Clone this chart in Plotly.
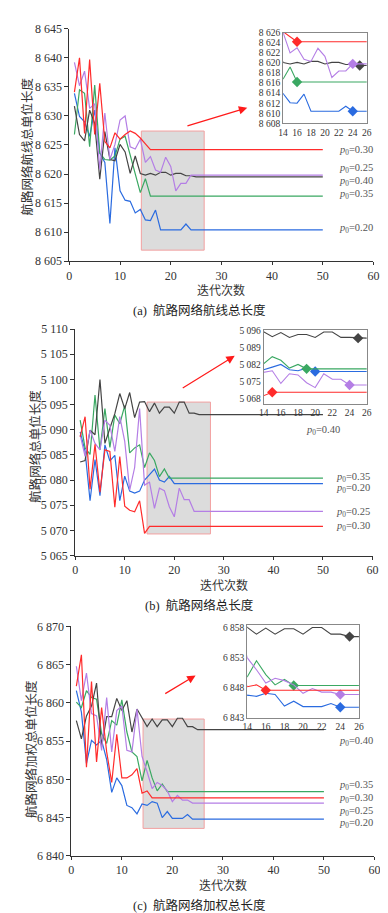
import plotly.graph_objects as go

W, H = 388, 913

# ---------------- data ----------------
ITERS = list(range(1, 27))      # iterations 1..26 read individually
FINAL_ITER = 50                 # lines stay flat until iteration 50
P0 = ["0.20", "0.25", "0.30", "0.35", "0.40"]
COLORS = {"0.20": "#2a6be0", "0.25": "#b47ee5", "0.30": "#ff2b2b",
          "0.35": "#3aa862", "0.40": "#444444"}
DRAW_ORDER = ["0.20", "0.35", "0.40", "0.25", "0.30"]

# (a) total route length
a_020 = [8633.9, 8629.9, 8629.0, 8626.5, 8631.0, 8623.6, 8622.0, 8611.5, 8624.5, 8617.1,
         8615.5, 8615.3, 8613.3, 8613.9, 8612.1, 8612.0, 8613.8, 8610.4, 8610.4, 8610.4,
         8610.4, 8610.4, 8611.4, 8610.4, 8610.4, 8610.4]
a_025 = [8639.2, 8635.2, 8637.7, 8631.3, 8632.1, 8620.8, 8630.5, 8622.5, 8625.1, 8629.3,
         8630.0, 8624.7, 8624.3, 8626.0, 8622.0, 8623.0, 8620.7, 8620.3, 8622.9, 8621.3,
         8617.1, 8618.4, 8618.4, 8619.8, 8619.8, 8619.8]
a_030 = [8634.1, 8640.0, 8627.0, 8639.7, 8626.8, 8635.6, 8625.6, 8624.5, 8627.1, 8626.0,
         8626.8, 8627.4, 8627.0, 8626.2, 8625.2, 8624.2, 8624.2, 8624.2, 8624.2, 8624.2,
         8624.2, 8624.2, 8624.2, 8624.2, 8624.2, 8624.2]
a_035 = [8626.8, 8634.5, 8633.9, 8624.7, 8635.3, 8623.6, 8622.5, 8622.4, 8623.1, 8626.0,
         8626.5, 8623.1, 8619.7, 8616.8, 8619.2, 8616.2, 8616.2, 8616.2, 8616.2, 8616.2,
         8616.2, 8616.2, 8616.2, 8616.2, 8616.2, 8616.2]
a_040 = [8631.7, 8626.8, 8625.7, 8631.0, 8628.7, 8619.1, 8627.3, 8622.5, 8622.3, 8625.1,
         8623.8, 8620.1, 8623.1, 8620.1, 8619.8, 8620.1, 8619.8, 8620.3, 8620.3, 8619.8,
         8620.1, 8620.1, 8619.7, 8619.7, 8619.5, 8619.5]
a_conv = {"0.20": 24, "0.25": 24, "0.30": 16, "0.35": 16, "0.40": 25}

# (b) total network length
b_020 = [5089.6, 5085.7, 5075.9, 5084.1, 5076.9, 5087.0, 5083.8, 5084.9, 5075.9, 5080.8,
         5077.8, 5077.4, 5077.8, 5080.0, 5081.1, 5082.2, 5080.0, 5079.6, 5080.7, 5079.3,
         5079.3, 5079.3, 5079.3, 5079.3, 5079.3, 5079.3]
b_025 = [5089.0, 5084.7, 5089.9, 5087.3, 5086.0, 5091.9, 5090.9, 5085.7, 5092.6, 5087.7,
         5078.0, 5082.5, 5094.2, 5079.0, 5079.6, 5074.4, 5078.4, 5077.9, 5074.7, 5072.7,
         5078.4, 5076.1, 5076.1, 5073.8, 5073.8, 5073.8]
b_030 = [5088.6, 5092.6, 5078.2, 5087.1, 5077.6, 5086.0, 5085.7, 5074.6, 5084.7, 5074.8,
         5074.0, 5073.7, 5075.9, 5069.4, 5070.8, 5070.8, 5070.8, 5070.8, 5070.8, 5070.8,
         5070.8, 5070.8, 5070.8, 5070.8, 5070.8, 5070.8]
b_035 = [5091.9, 5086.4, 5085.1, 5096.9, 5086.0, 5094.2, 5086.5, 5092.9, 5091.2, 5094.8,
         5085.4, 5086.4, 5087.0, 5082.5, 5085.4, 5083.9, 5080.7, 5082.2, 5080.4, 5080.4,
         5080.4, 5080.4, 5080.4, 5080.4, 5080.4, 5080.4]
b_040 = [5083.6, 5083.9, 5089.9, 5089.0, 5100.0, 5087.3, 5090.3, 5093.2, 5097.2, 5094.2,
         5097.4, 5092.4, 5095.5, 5095.6, 5093.6, 5095.3, 5093.3, 5094.5, 5094.5, 5093.3,
         5095.5, 5095.5, 5093.3, 5093.3, 5093.0, 5093.0]
b_conv = {"0.20": 20, "0.25": 24, "0.30": 15, "0.35": 19, "0.40": 25}

# (c) weighted total length
c_020 = [6861.6, 6858.8, 6852.1, 6855.1, 6854.5, 6855.1, 6852.6, 6848.3, 6850.2, 6849.2,
         6846.6, 6846.3, 6845.5, 6846.8, 6846.6, 6847.1, 6846.9, 6845.0, 6845.8, 6844.9,
         6844.9, 6844.9, 6845.4, 6844.8, 6844.8, 6844.8]
c_025 = [6864.8, 6860.3, 6863.9, 6858.6, 6858.3, 6853.8, 6860.7, 6853.6, 6859.0, 6859.6,
         6853.8, 6853.6, 6859.2, 6853.0, 6851.0, 6848.8, 6849.6, 6849.2, 6848.5, 6847.1,
         6847.9, 6847.3, 6847.3, 6846.9, 6846.9, 6846.9]
c_030 = [6862.2, 6866.3, 6851.6, 6862.8, 6852.3, 6859.4, 6853.6, 6849.6, 6855.9, 6850.2,
         6850.2, 6850.6, 6851.4, 6848.2, 6848.5, 6847.6, 6847.6, 6847.6, 6847.6, 6847.6,
         6847.6, 6847.6, 6847.6, 6847.6, 6847.6, 6847.6]
c_035 = [6860.1, 6859.4, 6861.6, 6860.7, 6860.5, 6856.0, 6854.7, 6857.7, 6857.1, 6860.4,
         6856.2, 6853.6, 6853.0, 6849.8, 6852.5, 6850.2, 6848.5, 6849.4, 6848.4, 6848.4,
         6848.4, 6848.4, 6848.4, 6848.4, 6848.4, 6848.4]
c_040 = [6857.7, 6855.3, 6858.3, 6859.6, 6862.6, 6854.3, 6858.2, 6858.2, 6860.6, 6859.0,
         6860.3, 6856.2, 6859.2, 6858.0, 6856.9, 6857.9, 6856.9, 6857.8, 6857.8, 6856.9,
         6858.0, 6858.0, 6856.9, 6856.9, 6856.5, 6856.5]
c_conv = {"0.20": 24, "0.25": 24, "0.30": 16, "0.35": 19, "0.40": 25}

# axis tick values
a_yticks = [8605, 8610, 8615, 8620, 8625, 8630, 8635, 8640, 8645]
a_inset_yticks = [8608, 8610, 8612, 8614, 8616, 8618, 8620, 8622, 8624, 8626]
b_yticks = [5065, 5070, 5075, 5080, 5085, 5090, 5095, 5100, 5105, 5110]
b_inset_yticks = [5068, 5075, 5082, 5089, 5096]
c_yticks = [6840, 6845, 6850, 6855, 6860, 6865, 6870]
c_inset_yticks = [6843, 6848, 6853, 6858]
main_xticks = [0, 10, 20, 30, 40, 50, 60]
inset_xticks = [14, 16, 18, 20, 22, 24, 26]

titles_y = ["航路网络航线总单位长度", "航路网络总单位长度", "航路网络加权总单位长度"]
captions = ["(a)  航路网络航线总长度", "(b)  航路网络总长度", "(c)  航路网络加权总长度"]
x_title = "迭代次数"

# ---------------- layout helpers ----------------
SERIF = "Liberation Serif, Noto Sans CJK SC, serif"
CJK = "Noto Sans CJK SC, Liberation Serif, sans-serif"


def fx(px):
    return px / W


def fy(py):
    return 1 - py / H


def fmt(v):
    return f"{v:,}".replace(",", " ")


panels = [
    dict(series={"0.20": a_020, "0.25": a_025, "0.30": a_030, "0.35": a_035, "0.40": a_040},
         conv=a_conv, yticks=a_yticks, yrange=[8605, 8645],
         iticks=a_inset_yticks, irange=[8608, 8626],
         main_dom=([58, 371], [14, 250]), inset_dom=([278, 364], [18, 110]),
         rect=(14.2, 26.6, 8606.9, 8627.4),
         arrow=((23.0, 8628.2), (35.1, 8631.4)),
         labels={"0.30": 8624.0, "0.25": 8620.9, "0.40": 8618.7, "0.35": 8616.4, "0.20": 8610.6},
         label_x=52.8,
         ytitle_pos=(14, 134), xtitle_pos=(214, 279), caption_pos=(192, 300)),
    dict(series={"0.20": b_020, "0.25": b_025, "0.30": b_030, "0.35": b_035, "0.40": b_040},
         conv=b_conv, yticks=b_yticks, yrange=[5065, 5110],
         iticks=b_inset_yticks, irange=[5066, 5096.3],
         main_dom=([64, 370], [319, 549]), inset_dom=([258, 364], [320, 395]),
         rect=(14.5, 27.3, 5069.3, 5095.5),
         arrow=((21.4, 5098.1), (32.2, 5104.7)),
         labels={"0.40": 5089.9, "0.35": 5080.6, "0.20": 5078.4, "0.25": 5073.6, "0.30": 5070.8},
         label_x={"0.40": 46.2, "default": 52.2},
         ytitle_pos=(22, 438), xtitle_pos=(217, 578), caption_pos=(192, 600)),
    dict(series={"0.20": c_020, "0.25": c_025, "0.30": c_030, "0.35": c_035, "0.40": c_040},
         conv=c_conv, yticks=c_yticks, yrange=[6840, 6870],
         iticks=c_inset_yticks, irange=[6843, 6858.5],
         main_dom=([60, 372], [621, 854]), inset_dom=([241, 356], [619, 714]),
         rect=(14.2, 26.3, 6843.6, 6857.9),
         arrow=((18.3, 6861.1), (24.6, 6863.6)),
         labels={"0.40": 6855.0, "0.35": 6849.2, "0.30": 6847.5, "0.25": 6845.8, "0.20": 6844.3},
         label_x=52.5,
         ytitle_pos=(18, 745), xtitle_pos=(216, 883), caption_pos=(192, 904)),
]

fig = go.Figure()
layout = dict(width=W, height=H, margin=dict(l=0, r=0, t=0, b=0), autosize=False,
              paper_bgcolor="white", plot_bgcolor="white", showlegend=False)
shapes, annots = [], []

for i, p in enumerate(panels):
    mi = 2 * i + 1
    ii = 2 * i + 2
    mx = "x" if mi == 1 else f"x{mi}"
    my = "y" if mi == 1 else f"y{mi}"
    ix, iy = f"x{ii}", f"y{ii}"
    mxk = "xaxis" if mi == 1 else f"xaxis{mi}"
    myk = "yaxis" if mi == 1 else f"yaxis{mi}"

    for key in DRAW_ORDER:
        vals = p["series"][key]
        xs = ITERS + [FINAL_ITER]
        ys = vals + [vals[-1]]
        col = COLORS[key]
        fig.add_trace(go.Scatter(x=xs, y=ys, mode="lines", xaxis=mx, yaxis=my,
                                 line=dict(color=col, width=1.2), hoverinfo="skip"))
        fig.add_trace(go.Scatter(x=xs, y=ys, mode="lines", xaxis=ix, yaxis=iy,
                                 line=dict(color=col, width=1.1), hoverinfo="skip"))
        cv = p["conv"][key]
        fig.add_trace(go.Scatter(x=[cv], y=[vals[cv - 1]], mode="markers", xaxis=ix, yaxis=iy,
                                 marker=dict(symbol="diamond", size=8, color=col),
                                 cliponaxis=False, hoverinfo="skip"))

    (mx0, mx1), (my0, my1) = p["main_dom"]
    (ix0, ix1), (iy0, iy1) = p["inset_dom"]
    layout[mxk] = dict(domain=[fx(mx0), fx(mx1)], anchor=my, range=[0, 60],
                       tickvals=main_xticks, ticktext=[str(t) for t in main_xticks],
                       showline=True, linecolor="#333", linewidth=1, ticks="outside",
                       ticklen=3, tickcolor="#333", showgrid=False, zeroline=False,
                       tickfont=dict(family=SERIF, size=12, color="#333"))
    layout[myk] = dict(domain=[fy(my1), fy(my0)], anchor=mx, range=p["yrange"],
                       tickvals=p["yticks"], ticktext=[fmt(t) for t in p["yticks"]],
                       showline=True, linecolor="#333", linewidth=1, ticks="outside",
                       ticklen=4, tickcolor="#333", showgrid=False, zeroline=False,
                       tickfont=dict(family=SERIF, size=12, color="#333"))
    layout[f"xaxis{ii}"] = dict(domain=[fx(ix0), fx(ix1)], anchor=iy, range=[14, 26],
                                tickvals=inset_xticks, ticktext=[str(t) for t in inset_xticks],
                                showline=True, mirror=True, linecolor="#888", linewidth=1,
                                ticks="", showgrid=False, zeroline=False,
                                tickfont=dict(family=SERIF, size=9.5, color="#333"))
    layout[f"yaxis{ii}"] = dict(domain=[fy(iy1), fy(iy0)], anchor=ix, range=p["irange"],
                                tickvals=p["iticks"], ticktext=[fmt(t) for t in p["iticks"]],
                                showline=True, mirror=True, linecolor="#888", linewidth=1,
                                ticks="", showgrid=False, zeroline=False,
                                tickfont=dict(family=SERIF, size=9.5, color="#333"))

    rx0, rx1, ry0, ry1 = p["rect"]
    shapes.append(dict(type="rect", xref=mx, yref=my, x0=rx0, x1=rx1, y0=ry0, y1=ry1,
                       fillcolor="rgba(205,205,205,0.7)", line=dict(color="#f2a0a0", width=1),
                       layer="below"))
    (sx, sy), (ex, ey) = p["arrow"]
    annots.append(dict(x=ex, y=ey, ax=sx, ay=sy, xref=mx, yref=my, axref=mx, ayref=my,
                       showarrow=True, arrowhead=2, arrowsize=1.4, arrowwidth=1.2,
                       arrowcolor="#ff1a1a", text=""))
    for key, ly in p["labels"].items():
        lx = p["label_x"]
        if isinstance(lx, dict):
            lx = lx.get(key, lx["default"])
        annots.append(dict(x=lx, y=ly, xref=mx, yref=my, xanchor="left", yanchor="middle",
                           showarrow=False, text=f"<i>p</i><sub>0</sub>=0.{key[2:]}",
                           font=dict(family=SERIF, size=10.5, color="#555")))

    tx, ty = p["ytitle_pos"]
    annots.append(dict(x=fx(tx), y=fy(ty), xref="paper", yref="paper", showarrow=False,
                       text=titles_y[i], textangle=-90, xanchor="center", yanchor="middle",
                       font=dict(family=CJK, size=12.5, color="#333")))
    tx, ty = p["xtitle_pos"]
    annots.append(dict(x=fx(tx), y=fy(ty), xref="paper", yref="paper", showarrow=False,
                       text=x_title, xanchor="center", yanchor="middle",
                       font=dict(family=CJK, size=12, color="#333")))
    tx, ty = p["caption_pos"]
    annots.append(dict(x=fx(tx), y=fy(ty), xref="paper", yref="paper", showarrow=False,
                       text=captions[i], xanchor="center", yanchor="middle",
                       font=dict(family=SERIF, size=12.5, color="#222")))

layout["shapes"] = shapes
layout["annotations"] = annots
fig.update_layout(**layout)
fig.write_html("out.html")
